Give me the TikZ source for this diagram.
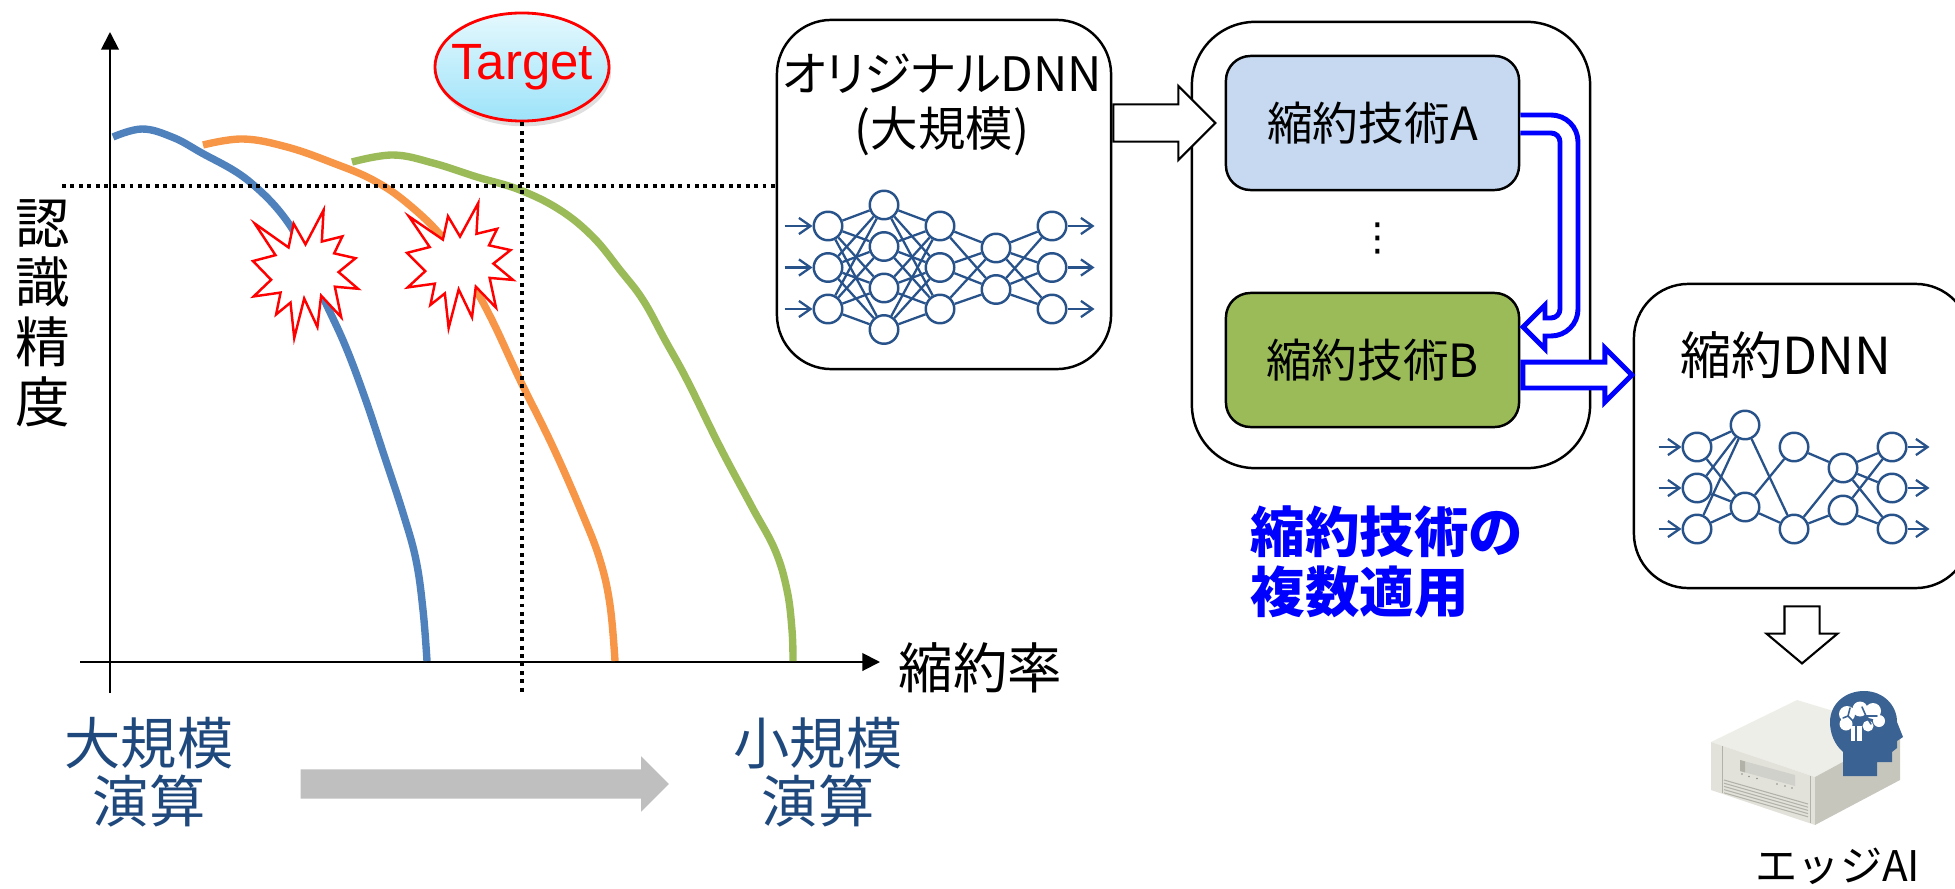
\documentclass[tikz,border=0pt]{standalone}
\usepackage{fontspec}
\setmainfont{Noto Sans CJK JP}
\newfontfamily\targetfont{Liberation Sans}
\newfontfamily\kanafont[RawFeature=+palt]{Noto Sans CJK JP}
\newfontfamily\symfont{DejaVu Sans}
\usetikzlibrary{arrows.meta,shapes.geometric,shapes.arrows,shadows,positioning}
\definecolor{lb}{HTML}{4F81BD}
\definecolor{lo}{HTML}{F79646}
\definecolor{lg}{HTML}{9BBB59}
\definecolor{nnb}{HTML}{28528A}
\definecolor{tb}{HTML}{1F497D}
\definecolor{ta}{HTML}{C6D9F1}
\definecolor{gry}{HTML}{BFBFBF}
\definecolor{vb}{HTML}{0000FF}
\definecolor{hb}{HTML}{3A6292}
\definecolor{s1}{HTML}{EEEEE9}
\definecolor{s2}{HTML}{E2E1DA}
\definecolor{s3}{HTML}{C7C6BD}
\definecolor{s4}{HTML}{B3B2A9}
\definecolor{tg1}{HTML}{E4F8FD}
\definecolor{tg2}{HTML}{9DE3FA}

\tikzset{
  axisline/.style={line width=0.55pt,-{Triangle[length=5pt,width=5pt]}},
  dotline/.style={line width=1pt,dash pattern=on 1.1pt off 1.3pt},
  frame/.style={draw,line width=0.7pt,fill=white,rounded corners=15.5pt},
  tech/.style={draw,line width=0.7pt,rounded corners=7pt,minimum width=2.93cm,
    minimum height=1.34cm,font=\fontsize{13pt}{15pt}\selectfont},
  lbl/.style={align=center,font=\fontsize{16pt}{16.5pt}\selectfont},
  neuron/.style={circle,draw=nnb,line width=0.7pt,minimum size=0.285cm,inner sep=0pt},
  wire/.style={nnb,line width=0.65pt},
  io/.style={nnb,line width=0.65pt,-{Straight Barb[length=3.3pt,width=4.6pt]}},
  hollow/.style={single arrow,draw,fill=white,line width=0.6pt},
  explosion/.pic={
    \draw[red,fill=white,line width=0.7pt] (108,58) -- (145.22,0) -- (141.55,53.25)
      -- (183.8,44.57) -- (167.02,73.15) -- (210.97,81.37) -- (176.07,104.75)
      -- (216,132.9) -- (168.37,129.42) -- (181.45,180.95) -- (140.2,144.57)
      -- (132.47,197.37) -- (105.32,149.35) -- (84.85,216) -- (77.15,156.27)
      -- (47.62,176.17) -- (56.67,139.37) -- (1.35,145.87) -- (37.22,117.75)
      -- (0,86.15) -- (46.27,76.17) -- (3.7,22.95) -- (73.12,63.2) -- (83.52,22.95) -- cycle;
  }
}

\begin{document}
\begin{tikzpicture}[x=0.01cm,y=-0.01cm]
\clip (0,0) rectangle (1955,888);

% axes
\coordinate (yb) at (110,693);
\coordinate (hl) at (62,186);
\draw[axisline] (yb) -- (110,32);
\draw[axisline] (80,662) -- (880,662);
\node[font=\fontsize{15.5pt}{17pt}\selectfont,align=center] (ylab) at (43,313) {認\\識\\精\\度};
\node[anchor=west,inner sep=0pt,font=\fontsize{15.5pt}{17pt}\selectfont] (xlab) at (898,668) {縮約率};

% accuracy curves
\draw[lb,line width=2.1pt] plot[smooth,tension=0.65] coordinates {(113,137) (142,129) (172,137)
  (200,152) (250,182) (293,230) (322,295) (345,345) (365,398) (383,452) (403,513)
  (416,560) (423,610) (427,661)};
\draw[lo,line width=2.1pt] plot[smooth,tension=0.65] coordinates {(203,145) (243,139) (287,147)
  (333,163) (373,180) (407,203) (443,238) (470,280) (492,320) (520,380) (553,447)
  (582,513) (600,560) (610,605) (615,661)};
\draw[lg,line width=2.1pt] plot[smooth,tension=0.65] coordinates {(352,162) (393,155) (433,163)
  (477,177) (520,190) (560,210) (593,237) (620,270) (643,300) (665,340) (687,380)
  (720,447) (752,507) (775,550) (787,590) (792,630) (793,661)};

% breakdowns
\pic[xscale=105/216,yscale=128/216] at (253,210) {explosion};
\pic[xscale=106/216,yscale=125/216] at (407,203) {explosion};

% target
\node[ellipse,draw=red,line width=0.8pt,top color=tg1,bottom color=tg2,inner sep=0pt,
  drop shadow={shadow xshift=0.6pt,shadow yshift=-1.5pt,opacity=0.25},
  minimum width=1.74cm,minimum height=1.08cm,text=red,
  font=\targetfont\fontsize{14.5pt}{16pt}\selectfont] (target) at (522,67) {\makebox[0pt]{Target}};
\draw[dotline] (target.south) -- (target.south |- yb);

% scale labels
\node[lbl,text=tb] (large) at (149,772) {大規模\\演算};
\node[lbl,text=tb] (compact) at (818,772) {小規模\\演算};
\node[single arrow,fill=gry,inner sep=0.14cm,minimum height=3.68cm,minimum width=0.54cm,
  single arrow head extend=0.13cm,anchor=tail] (scalearrow) at (300,784) {};

% original network
\node[frame,minimum width=3.34cm,minimum height=3.49cm] (orig) at (944,194.5) {};
\node[align=center,font=\fontsize{13.5pt}{15.6pt}\selectfont] (origtxt) at (942,105)
  {{\kanafont オリジナル}DNN\\(大規模)};
\draw[dotline] (hl) -- (hl -| orig.west);

\foreach \y [count=\i] in {226,267.5,309} \node[neuron] (o1-\i) at (828,\y) {};
\foreach \y [count=\i] in {205,246.5,288,329.5} \node[neuron] (o2-\i) at (884,\y) {};
\foreach \y [count=\i] in {226,267.5,309} \node[neuron] (o3-\i) at (940,\y) {};
\foreach \y [count=\i] in {248,289.5} \node[neuron] (o4-\i) at (996,\y) {};
\foreach \y [count=\i] in {226,267.5,309} \node[neuron] (o5-\i) at (1052,\y) {};
\foreach \l/\m/\p/\q in {1/2/3/4,2/3/4/3,3/4/3/2,4/5/2/3}
  \foreach \a in {1,...,\p}
    \foreach \b in {1,...,\q}
      \draw[wire] (o\l-\a) -- (o\m-\b);
\foreach \i in {1,2,3} {
  \draw[io] ([xshift=-0.28cm]o1-\i.west) -- (o1-\i.west);
  \draw[io] (o5-\i.east) -- ([xshift=0.27cm]o5-\i.east);
}

% compression steps
\node[frame,rounded corners=18pt,minimum width=3.98cm,minimum height=4.46cm] (mid) at (1391,245) {};
\node[tech,fill=ta] (techA) at (1372.5,123) {縮約技術A};
\node[tech,fill=lg] (techB) at (1372.5,360) {縮約技術B};
\node[font=\symfont\fontsize{11pt}{13pt}\selectfont] (dots) at (1378,238) {⋮};
\node[hollow,inner sep=0.175cm,minimum height=1.02cm,minimum width=0.72cm,
  single arrow head extend=0.185cm,anchor=tail] (toMid) at (orig.east |- techA) {};

% A then B
\coordinate (ua) at ([yshift=0.08cm]techA.east);
\filldraw[fill=white,draw=vb,line width=1.4pt] (ua) -- (1551,115)
  .. controls (1566,115) and (1578,127) .. (1578,142) -- (1578,309)
  .. controls (1578,324) and (1566,336) .. (1551,336) -- (1545,336) -- (1545,349)
  -- (1523,327) -- (1545,305) -- (1545,318) -- (1551,318)
  .. controls (1556,318) and (1560,314) .. (1560,309) -- (1560,142)
  .. controls (1560,137) and (1556,133) .. (1551,133) -- (ua |- 0,133);

\node[anchor=west,align=left,inner sep=0pt,text=vb,
  font=\bfseries\fontsize{15.5pt}{17pt}\selectfont] (multi) at (1250,562) {縮約技術の\\複数適用};

% compressed network
\node[frame,minimum width=3.36cm,minimum height=3.04cm] (small) at (1802,436) {};
\node[font=\fontsize{14.5pt}{16pt}\selectfont] (smalltxt) at (1786,355) {縮約DNN};
\node[hollow,draw=vb,line width=1.4pt,inner sep=0.105cm,minimum height=1.09cm,minimum width=0.49cm,
  single arrow head extend=0.14cm,anchor=tail] (toSmall) at ([yshift=-0.15cm]techB.east) {};

\foreach \y [count=\i] in {447,488,529} \node[neuron] (s1-\i) at (1697,\y) {};
\foreach \y [count=\i] in {425,507} \node[neuron] (s2-\i) at (1745,\y) {};
\foreach \y [count=\i] in {447,529} \node[neuron] (s3-\i) at (1794,\y) {};
\foreach \y [count=\i] in {468,510} \node[neuron] (s4-\i) at (1843,\y) {};
\foreach \y [count=\i] in {447,488,529} \node[neuron] (s5-\i) at (1892,\y) {};
\foreach \p/\a/\q/\b in {1/1/2/1,1/1/2/2,1/2/2/1,1/2/2/2,1/3/2/1,1/3/2/2,
    2/1/3/2,2/2/3/1,2/2/3/2,3/1/4/1,3/2/4/1,3/2/4/2,
    4/1/5/1,4/1/5/2,4/1/5/3,4/2/5/1,4/2/5/3}
  \draw[wire] (s\p-\a) -- (s\q-\b);
\foreach \i in {1,2,3} {
  \draw[io] ([xshift=-0.23cm]s1-\i.west) -- (s1-\i.west);
  \draw[io] (s5-\i.east) -- ([xshift=0.22cm]s5-\i.east);
}

\node[hollow,shape border rotate=270,inner sep=0.165cm,minimum height=0.57cm,minimum width=0.69cm,
  single arrow head extend=0.18cm,single arrow tip angle=100,anchor=tail]
  (toEdge) at ([yshift=-0.16cm]small.south) {};

% edge device
\fill[s1] (1711,742) -- (1797,700) -- (1900,731) -- (1815,777) -- cycle;
\fill[s2] (1711,742) -- (1815,777) -- (1815,825) -- (1711,790) -- cycle;
\fill[s3] (1815,777) -- (1900,731) -- (1900,780) -- (1815,825) -- cycle;
\draw[s4,line width=0.3pt] (1722,746) -- (1722,793) (1810,776) -- (1810,823);
\fill[s4!60] (1740,760) -- (1795,775) -- (1795,786) -- (1740,771) -- cycle;
\fill[s4] (1740,760) -- (1745,761.4) -- (1745,772.4) -- (1740,771) -- cycle;
\foreach \p in {(1742,774),(1749,776.5),(1757,778.5),(1777,784),(1785,786),(1792,788)}
  \fill[s4!80!black] \p circle[radius=0.9];
\foreach \k in {0,...,4}
  \draw[s4,line width=0.3pt] (1724,780+3.2*\k) -- (1808,804+3.2*\k);
\fill[hb] (1843,776) -- (1843,752) .. controls (1834,744) and (1830,733) .. (1830,722)
  .. controls (1830,704) and (1845,691) .. (1864,691)
  .. controls (1883,691) and (1897,705) .. (1897,722) -- (1903,737) -- (1897,741)
  -- (1897,748) -- (1892,752) -- (1892,762) -- (1877,762) -- (1877,776) -- cycle;
\fill[white] (1847,714) circle[radius=8] (1860,709) circle[radius=7.5] (1873,711) circle[radius=8]
  (1879,721) circle[radius=6] (1846,724) circle[radius=6.5] (1868,726) circle[radius=5.5];
\fill[white] (1851,726) rectangle (1862,741);
\draw[hb,line width=0.45pt,line cap=round] (1856,741) -- (1856,724) -- (1848,716) -- (1843,718)
  (1848,716) -- (1850,708) (1856,724) -- (1866,716) -- (1862,707) (1866,716) -- (1877,716)
  (1866,716) -- (1871,724);
\node[font=\fontsize{12pt}{14pt}\selectfont] (edgetxt) at (1838,866) {エッジAI};
\end{tikzpicture}
\end{document}
